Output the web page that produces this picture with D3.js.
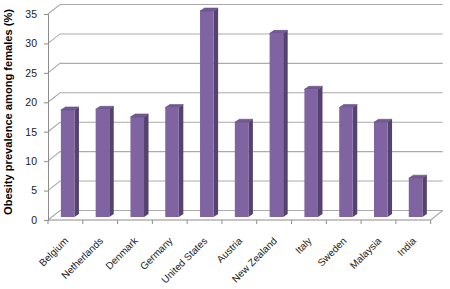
<!DOCTYPE html>
<html><head><meta charset="utf-8">
<script src="https://cdn.jsdelivr.net/npm/d3@7"></script>
<style>
html,body{margin:0;padding:0;background:#fff;}
svg{display:block;}
text{font-family:"Liberation Sans",Arial,sans-serif;}
</style></head>
<body>
<script>
const categories = ["Belgium","Netherlands","Denmark","Germany","United States","Austria","New Zealand","Italy","Sweden","Malaysia","India"];
const values = [18.2, 18.3, 17.0, 18.6, 35.0, 16.1, 31.2, 21.7, 18.6, 16.1, 6.6];
const yTicks = [0,5,10,15,20,25,30,35];
const yTitle = "Obesity prevalence among females (%)";

const W = 450, H = 289;
const svg = d3.select("body").append("svg").attr("width", W).attr("height", H);

const x = d3.scaleBand().domain(categories).range([48, 430.7]).padding(0);
const y = d3.scaleLinear().domain([0, 35]).range([220, 14]);

const wallDx = 12, wallDy = -9.5;
const barDx = 4, barDy = -3;
const bDepthX = 4.5, bDepthY = -3;
const bw = x.bandwidth();
const barW = bw * 0.39;
const barOff = bw * 0.255;

const gridColor = "#ababab";
svg.append("g").selectAll("path").data(yTicks).join("path")
  .attr("d", t => {
    const yy = y(t);
    return `M${x.range()[0]},${yy}L${x.range()[0]+wallDx},${yy+wallDy}L${x.range()[1]+wallDx},${yy+wallDy}`;
  })
  .attr("fill", "none").attr("stroke", gridColor).attr("stroke-width", 1.1);

svg.append("path")
  .attr("d", `M${x.range()[1]},${y(0)}L${x.range()[1]+wallDx},${y(0)+wallDy}`)
  .attr("fill","none").attr("stroke", gridColor).attr("stroke-width", 1.1);

const yAxis = d3.axisLeft(y).tickValues(yTicks).tickSize(4).tickPadding(7);
const gy = svg.append("g").attr("transform", `translate(${x.range()[0]},0)`).call(yAxis);
gy.select(".domain").attr("stroke", "#8c8c8c");
gy.selectAll(".tick line").attr("stroke", "#8c8c8c");
gy.selectAll(".tick text").attr("font-size", 10.5).attr("fill", "#1a1a1a");

svg.append("line").attr("x1", x.range()[0]).attr("x2", x.range()[1])
  .attr("y1", y(0)).attr("y2", y(0)).attr("stroke", "#8c8c8c");
const bounds = categories.map(c => x(c)).concat([x.range()[1]]);
svg.append("g").selectAll("line").data(bounds).join("line")
  .attr("x1", d => d).attr("x2", d => d)
  .attr("y1", y(0)).attr("y2", y(0) + 4)
  .attr("stroke", "#8c8c8c");

const bars = svg.append("g").selectAll("g").data(categories.map((c,i)=>({c, v: values[i]}))).join("g");
bars.each(function(d){
  const g = d3.select(this);
  const x0 = x(d.c) + barOff + barDx;
  const x1 = x0 + barW;
  const yt = y(d.v) + barDy;
  const yb = y(0) + barDy;
  g.append("path")
    .attr("d", `M${x1},${yb}L${x1+bDepthX},${yb+bDepthY}L${x1+bDepthX},${yt+bDepthY}L${x1},${yt}Z`)
    .attr("fill", "#54426f");
  g.append("rect").attr("x", x0).attr("y", yt).attr("width", barW).attr("height", yb - yt)
    .attr("fill", "#8064a2");
  g.append("path")
    .attr("d", `M${x0},${yt}L${x0+bDepthX},${yt+bDepthY}L${x1+bDepthX},${yt+bDepthY}L${x1},${yt}Z`)
    .attr("fill", "#735a94").attr("stroke", "#5a4678").attr("stroke-width", 0.5);
});

svg.append("g").selectAll("text").data(categories).join("text")
  .attr("transform", c => `translate(${x(c) + bw/2 + 1},${y(0) + 19}) rotate(-45)`)
  .attr("text-anchor", "end")
  .attr("dy", "0.35em")
  .attr("font-size", 10)
  .attr("fill", "#1a1a1a")
  .text(c => c);

svg.append("text")
  .attr("transform", `translate(12,${(y(0)+y(35))/2 - 5}) rotate(-90)`)
  .attr("text-anchor", "middle")
  .attr("font-size", 10)
  .attr("font-weight", "bold")
  .attr("textLength", 206)
  .attr("lengthAdjust", "spacingAndGlyphs")
  .attr("fill", "#000")
  .text(yTitle);
</script>
</body></html>
